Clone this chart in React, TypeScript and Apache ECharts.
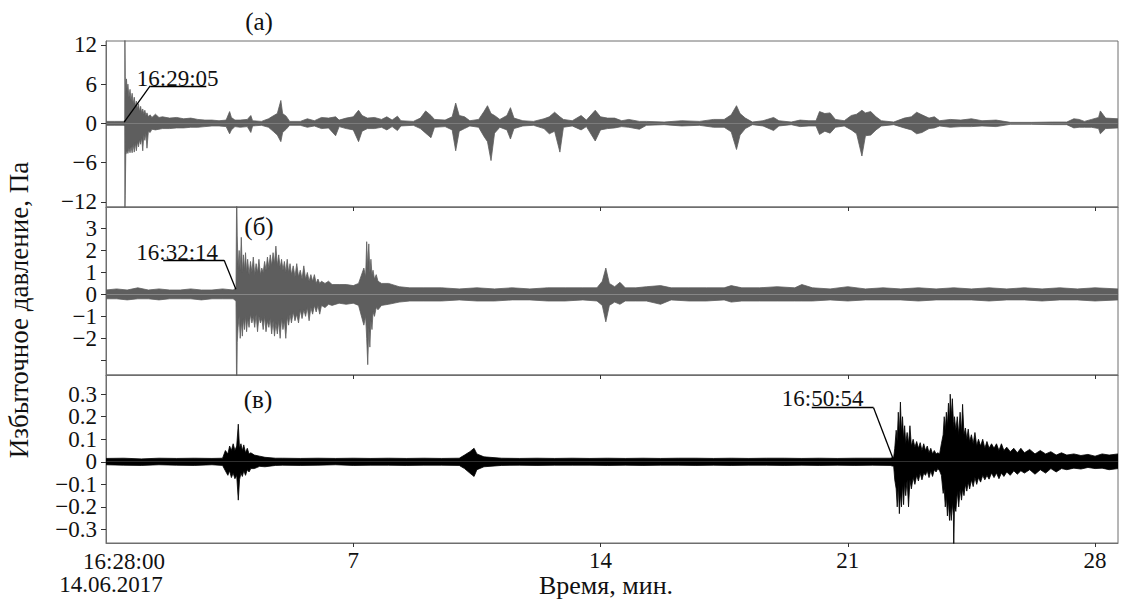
import React, { useEffect, useRef } from "react";
import * as echarts from "echarts";

// ---- texts ----
const startTimeLabel = "16:28:00";
const startDateLabel = "14.06.2017";
const xAxisTitle = "Время, мин.";
const yAxisTitle = "Избыточное давление, Па";
const panelLabels = ["(а)", "(б)", "(в)"];

// ---- axes ----
const xRange = [0, 28.65];
const xTickValues = [7, 14, 21, 28];
const panelARange = [-12.8, 12.6];
const panelATicks = [12, 6, 0, -6, -12];
const panelALabelsA = [12, 6, 0, -6, -12];
const panelALabelsB: number[] = [];
const panelBRange = [-3.67, 3.98];
const panelBTicks = [3, 2, 1, 0, -1, -2, -3];
const panelBLabelsA = [3, 1, -1];
const panelBLabelsB = [2, 0, -2];
const panelCRange = [-0.36, 0.385];
const panelCTicks = [0.3, 0.2, 0.1, 0, -0.1, -0.2, -0.3];
const panelCLabelsA = [0.3, 0.1, -0.1, -0.3];
const panelCLabelsB = [0.2, 0, -0.2];

// ---- signal envelopes: [minute, upper, lower] ----
const panelAEnvelope: number[][] = [
  [0, 0.3, -0.3], [0.25, 0.3, -0.3], [0.5, 0.3, -0.3], [0.53, 0.5, -0.5], [0.535, 14, -14],
  [0.545, 7.2, -11], [0.56, 4.5, -4.8], [0.58, 6.8, -4.5], [0.6, 4.8, -4.2], [0.62, 6.0, -4.6],
  [0.65, 4.0, -3.8], [0.68, 5.2, -4.5], [0.71, 3.5, -3.6], [0.74, 4.6, -4.5], [0.77, 3.0, -3.2],
  [0.8, 4.0, -4.4], [0.83, 2.6, -3.0], [0.86, 3.4, -4.2], [0.89, 2.2, -2.8], [0.92, 3.0, -3.6],
  [0.95, 1.8, -2.5], [0.98, 2.6, -3.2], [1.01, 1.6, -2.2], [1.04, 2.2, -4.2], [1.07, 1.4, -1.8],
  [1.1, 2.0, -2.6], [1.13, 1.2, -1.5], [1.16, 1.6, -3.8], [1.2, 1.0, -1.2], [1.25, 1.3, -1.4],
  [1.3, 0.9, -0.9], [1.4, 1.4, -1.0], [1.5, 0.9, -0.9], [1.6, 1.0, -0.8], [1.8, 0.8, -0.8],
  [2.0, 0.9, -0.7], [2.2, 0.7, -0.7], [2.4, 0.8, -0.6], [2.6, 0.6, -0.6], [2.8, 0.5, -0.5],
  [3.0, 0.5, -0.4], [3.2, 0.4, -0.4], [3.4, 0.5, -0.5], [3.5, 1.8, -1.6], [3.55, 0.9, -1.0],
  [3.65, 0.5, -0.5], [3.8, 0.5, -0.6], [4.0, 0.6, -0.5], [4.1, 1.2, -1.4], [4.15, 0.4, -0.4],
  [4.4, 0.3, -0.3], [4.6, 0.7, -0.6], [4.75, 1.2, -1.3], [4.85, 1.5, -1.8], [4.95, 3.5, -2.8],
  [5.0, 1.5, -1.4], [5.1, 1.1, -0.9], [5.2, 0.3, -0.3], [5.5, 0.3, -0.3], [5.7, 0.7, -0.6],
  [5.9, 0.4, -0.4], [6.1, 0.9, -0.8], [6.3, 0.8, -0.7], [6.5, 1.0, -1.9], [6.6, 0.5, -0.5],
  [6.8, 0.8, -0.8], [7.0, 1.0, -1.0], [7.15, 2.0, -2.8], [7.25, 1.2, -1.2], [7.4, 0.8, -0.8],
  [7.6, 0.9, -0.8], [7.8, 0.6, -0.6], [7.95, 1.0, -1.0], [8.1, 0.5, -0.5], [8.25, 1.1, -1.1],
  [8.35, 0.4, -0.4], [8.7, 0.3, -0.3], [8.9, 0.8, -0.8], [9.05, 1.9, -1.5], [9.2, 1.2, -2.2],
  [9.3, 0.6, -0.6], [9.6, 0.5, -0.5], [9.8, 1.0, -1.0], [9.9, 3.1, -4.2], [10.0, 1.2, -1.2],
  [10.15, 1.0, -0.8], [10.3, 0.4, -0.4], [10.55, 0.6, -0.6], [10.7, 1.8, -2.0], [10.8, 2.7, -2.8],
  [10.9, 1.5, -5.7], [11.0, 1.2, -1.5], [11.15, 0.6, -0.6], [11.35, 1.2, -1.0], [11.45, 2.4, -2.4],
  [11.55, 0.8, -0.8], [11.8, 0.4, -0.4], [12.1, 0.3, -0.3], [12.4, 0.7, -0.8], [12.55, 1.0, -1.6],
  [12.7, 1.7, -1.2], [12.85, 1.0, -4.4], [12.95, 0.6, -0.6], [13.2, 0.4, -0.4], [13.45, 1.2, -1.0],
  [13.6, 0.5, -0.5], [13.85, 2.0, -2.7], [14.0, 1.0, -1.0], [14.2, 0.8, -0.8], [14.4, 0.8, -0.7],
  [14.6, 0.4, -0.5], [14.8, 0.6, -0.6], [15.1, 0.3, -0.9], [15.3, 0.3, -0.3], [15.8, 0.2, -0.2],
  [16.3, 0.4, -0.4], [16.8, 0.3, -0.3], [17.2, 0.6, -0.6], [17.5, 0.6, -0.6], [17.7, 1.3, -1.3],
  [17.85, 2.7, -4.0], [17.95, 1.5, -1.8], [18.1, 0.8, -0.8], [18.3, 0.2, -0.2], [18.6, 0.4, -0.4],
  [18.9, 0.9, -1.1], [19.05, 0.4, -0.4], [19.4, 0.2, -0.2], [19.65, 0.5, -0.5], [19.9, 0.4, -0.4],
  [20.1, 0.4, -0.4], [20.2, 1.8, -1.7], [20.35, 1.5, -1.2], [20.5, 1.6, -1.5], [20.65, 0.6, -0.6],
  [20.9, 0.4, -0.4], [21.1, 1.2, -1.0], [21.25, 1.4, -1.6], [21.4, 2.0, -5.0], [21.5, 1.6, -1.9],
  [21.65, 1.8, -1.8], [21.8, 1.0, -1.0], [21.95, 0.4, -0.4], [22.3, 0.2, -0.2], [22.6, 0.8, -0.7],
  [22.8, 1.0, -1.0], [22.95, 1.7, -1.6], [23.1, 1.3, -1.4], [23.3, 0.8, -0.8], [23.45, 1.0, -0.7],
  [23.6, 0.4, -0.4], [23.9, 0.6, -0.6], [24.2, 0.5, -0.5], [24.5, 0.7, -0.5], [24.8, 0.4, -0.4],
  [25.2, 0.5, -0.5], [25.6, 0.15, -0.15], [26.2, 0.15, -0.15], [26.8, 0.2, -0.2], [27.2, 0.2, -0.2],
  [27.4, 0.7, -0.7], [27.55, 0.6, -0.6], [27.7, 0.3, -0.6], [27.9, 0.6, -0.6], [28.1, 0.9, -0.8],
  [28.15, 1.9, -1.6], [28.3, 0.8, -0.8], [28.65, 0.7, -0.7],
];

const panelBEnvelope: number[][] = [
  [0, 0.2, -0.2], [0.3, 0.25, -0.2], [0.6, 0.2, -0.25], [0.9, 0.3, -0.2], [1.2, 0.2, -0.2],
  [1.5, 0.25, -0.25], [1.8, 0.2, -0.2], [2.1, 0.2, -0.2], [2.4, 0.25, -0.2], [2.7, 0.2, -0.25],
  [3.0, 0.2, -0.2], [3.3, 0.25, -0.2], [3.6, 0.2, -0.2], [3.68, 0.3, -0.3], [3.7, 5, -5],
  [3.715, 2.7, -2.2], [3.74, 1.2, -1.5], [3.77, 2.0, -1.0], [3.8, 1.1, -2.0], [3.83, 2.6, -1.2],
  [3.86, 1.0, -1.9], [3.89, 1.8, -1.1], [3.92, 1.1, -1.6], [3.95, 1.9, -1.0], [3.98, 1.0, -1.7],
  [4.01, 1.6, -1.1], [4.05, 0.9, -1.5], [4.09, 1.5, -0.9], [4.13, 1.0, -1.3], [4.17, 1.7, -1.0],
  [4.21, 0.9, -1.5], [4.25, 1.4, -0.9], [4.29, 1.0, -1.7], [4.33, 1.6, -1.0], [4.37, 0.9, -1.3],
  [4.41, 1.2, -1.1], [4.45, 1.0, -1.6], [4.49, 1.5, -1.0], [4.53, 1.1, -1.7], [4.57, 1.7, -1.2],
  [4.61, 1.2, -1.5], [4.65, 1.8, -1.1], [4.69, 1.3, -1.8], [4.73, 1.9, -1.2], [4.77, 1.4, -1.9],
  [4.81, 2.2, -1.3], [4.85, 1.3, -1.8], [4.89, 1.8, -1.2], [4.93, 1.2, -2.0], [4.97, 1.6, -1.1],
  [5.01, 1.1, -1.6], [5.05, 1.5, -1.2], [5.09, 1.0, -2.0], [5.13, 1.6, -1.0], [5.17, 1.0, -1.4],
  [5.21, 1.4, -0.9], [5.25, 0.9, -1.3], [5.3, 1.3, -0.8], [5.35, 0.8, -1.2], [5.4, 1.4, -0.9],
  [5.45, 0.8, -1.3], [5.5, 1.1, -0.7], [5.55, 0.7, -1.1], [5.6, 1.3, -0.7], [5.65, 0.7, -1.0],
  [5.7, 1.0, -0.6], [5.75, 0.6, -1.2], [5.8, 0.9, -0.6], [5.85, 0.6, -0.9], [5.9, 0.9, -0.5],
  [5.95, 0.5, -0.8], [6.0, 0.7, -0.5], [6.05, 0.5, -0.9], [6.1, 0.6, -0.5], [6.2, 0.5, -0.6],
  [6.3, 0.6, -0.45], [6.4, 0.45, -0.5], [6.6, 0.45, -0.4], [6.8, 0.45, -0.45], [7.0, 0.4, -0.4],
  [7.15, 0.5, -0.5], [7.3, 1.2, -1.4], [7.35, 0.8, -1.0], [7.38, 2.4, -2.0], [7.41, 1.2, -3.2],
  [7.44, 2.3, -1.5], [7.47, 1.0, -2.4], [7.5, 1.6, -1.2], [7.53, 0.9, -1.6], [7.56, 1.1, -0.8],
  [7.6, 0.7, -1.0], [7.65, 0.9, -0.6], [7.7, 0.6, -0.7], [7.8, 0.5, -0.5],
  [8.0, 0.5, -0.45], [8.3, 0.35, -0.35], [8.6, 0.3, -0.3], [9.0, 0.3, -0.3], [9.5, 0.3, -0.3],
  [10.0, 0.25, -0.25], [10.5, 0.3, -0.3], [11.0, 0.25, -0.3], [11.5, 0.3, -0.25], [12.0, 0.25, -0.25],
  [12.5, 0.3, -0.3], [13.0, 0.3, -0.3], [13.5, 0.3, -0.25], [13.9, 0.3, -0.3], [14.05, 0.6, -0.5],
  [14.15, 1.2, -1.25], [14.25, 0.5, -0.5], [14.4, 0.35, -0.35], [14.55, 0.55, -0.45], [14.7, 0.3, -0.3],
  [15.0, 0.3, -0.3], [15.3, 0.35, -0.3], [15.7, 0.4, -0.45], [16.0, 0.3, -0.25], [16.5, 0.3, -0.3],
  [17.0, 0.3, -0.3], [17.5, 0.3, -0.25], [17.7, 0.4, -0.35], [18.0, 0.3, -0.3], [18.5, 0.3, -0.3],
  [19.0, 0.35, -0.3], [19.5, 0.3, -0.3], [19.7, 0.45, -0.3], [20.0, 0.3, -0.3], [20.5, 0.25, -0.25],
  [21.0, 0.35, -0.3], [21.5, 0.25, -0.25], [22.0, 0.3, -0.25], [22.5, 0.25, -0.25], [23.0, 0.3, -0.3],
  [23.5, 0.25, -0.25], [24.0, 0.3, -0.25], [24.5, 0.25, -0.25], [25.0, 0.3, -0.3], [25.5, 0.25, -0.25],
  [26.0, 0.3, -0.25], [26.5, 0.25, -0.3], [27.0, 0.3, -0.25], [27.5, 0.25, -0.25], [28.0, 0.3, -0.3],
  [28.65, 0.25, -0.25],
];

const panelCEnvelope: number[][] = [
  [0, 0.015, -0.013], [0.5, 0.016, -0.015], [1.0, 0.013, -0.016], [1.5, 0.016, -0.013], [2.0, 0.015, -0.015],
  [2.5, 0.016, -0.016], [3.0, 0.015, -0.013], [3.3, 0.016, -0.016], [3.38, 0.05, -0.04], [3.45, 0.035, -0.06],
  [3.5, 0.07, -0.04], [3.55, 0.05, -0.07], [3.6, 0.08, -0.05], [3.65, 0.05, -0.075], [3.7, 0.07, -0.06],
  [3.745, 0.167, -0.17], [3.78, 0.06, -0.08], [3.82, 0.08, -0.05], [3.86, 0.05, -0.065], [3.9, 0.075, -0.04],
  [3.95, 0.04, -0.06], [4.0, 0.06, -0.035], [4.05, 0.035, -0.045], [4.1, 0.04, -0.03], [4.2, 0.03, -0.03],
  [4.35, 0.025, -0.02], [4.5, 0.02, -0.022], [4.8, 0.016, -0.016],
  [5.0, 0.016, -0.015], [5.5, 0.015, -0.016], [6.0, 0.016, -0.015], [6.5, 0.015, -0.013], [7.0, 0.016, -0.016],
  [7.5, 0.015, -0.015], [8.0, 0.016, -0.015], [8.5, 0.015, -0.016], [9.0, 0.016, -0.015], [9.5, 0.015, -0.015],
  [10.0, 0.016, -0.016], [10.15, 0.03, -0.03], [10.3, 0.045, -0.05], [10.42, 0.06, -0.065], [10.5, 0.035, -0.035],
  [10.7, 0.022, -0.022], [11.2, 0.016, -0.016], [11.7, 0.015, -0.015], [12.2, 0.016, -0.016], [12.7, 0.015, -0.015],
  [13.2, 0.016, -0.015], [13.7, 0.015, -0.015], [14.2, 0.016, -0.016], [14.7, 0.015, -0.015], [15.2, 0.016, -0.016],
  [15.7, 0.015, -0.015], [16.2, 0.016, -0.015], [16.7, 0.016, -0.016], [17.2, 0.015, -0.015], [17.7, 0.016, -0.016],
  [18.2, 0.015, -0.015], [18.7, 0.016, -0.015], [19.2, 0.016, -0.016], [19.7, 0.015, -0.015], [20.2, 0.016, -0.016],
  [20.7, 0.015, -0.015], [21.2, 0.016, -0.016], [21.7, 0.016, -0.015], [22.2, 0.016, -0.016], [22.3, 0.02, -0.02],
  [22.33, 0.06, -0.08], [22.37, 0.14, -0.12], [22.4, 0.09, -0.2], [22.43, 0.22, -0.1], [22.46, 0.12, -0.23],
  [22.49, 0.265, -0.14], [22.52, 0.13, -0.2], [22.55, 0.2, -0.1], [22.58, 0.1, -0.19], [22.61, 0.16, -0.09],
  [22.64, 0.08, -0.15], [22.68, 0.13, -0.08], [22.72, 0.08, -0.2], [22.76, 0.16, -0.08], [22.8, 0.07, -0.12],
  [22.85, 0.1, -0.07], [22.9, 0.065, -0.1], [22.95, 0.09, -0.06], [23.0, 0.06, -0.085], [23.05, 0.085, -0.05],
  [23.1, 0.05, -0.08], [23.15, 0.08, -0.05], [23.2, 0.05, -0.06], [23.25, 0.07, -0.04], [23.3, 0.04, -0.07],
  [23.35, 0.06, -0.04], [23.4, 0.035, -0.065], [23.45, 0.05, -0.035], [23.5, 0.035, -0.045], [23.55, 0.04, -0.03],
  [23.6, 0.035, -0.04], [23.65, 0.08, -0.06], [23.7, 0.12, -0.14], [23.73, 0.2, -0.12], [23.76, 0.14, -0.2],
  [23.79, 0.22, -0.15], [23.82, 0.16, -0.24], [23.85, 0.26, -0.17], [23.88, 0.18, -0.26], [23.9, 0.3, -0.2],
  [23.93, 0.2, -0.26], [23.96, 0.28, -0.18], [23.99, 0.18, -0.24], [24.0, 0.15, -0.4], [24.02, 0.2, -0.2],
  [24.06, 0.14, -0.22], [24.1, 0.2, -0.13], [24.14, 0.12, -0.2], [24.18, 0.22, -0.12], [24.22, 0.13, -0.17],
  [24.25, 0.255, -0.12], [24.29, 0.12, -0.15], [24.33, 0.15, -0.1], [24.37, 0.1, -0.13], [24.41, 0.145, -0.09],
  [24.45, 0.09, -0.12], [24.5, 0.12, -0.08], [24.55, 0.08, -0.11], [24.6, 0.13, -0.07], [24.65, 0.07, -0.1],
  [24.7, 0.1, -0.07], [24.76, 0.07, -0.09], [24.82, 0.1, -0.06], [24.88, 0.06, -0.08], [24.94, 0.09, -0.06],
  [25.0, 0.06, -0.077], [25.07, 0.08, -0.05], [25.14, 0.06, -0.07], [25.21, 0.08, -0.05], [25.28, 0.05, -0.075],
  [25.35, 0.08, -0.05], [25.42, 0.05, -0.065], [25.5, 0.065, -0.045], [25.6, 0.045, -0.06], [25.7, 0.06, -0.04],
  [25.8, 0.04, -0.055], [25.9, 0.06, -0.04], [26.0, 0.04, -0.05], [26.15, 0.055, -0.035], [26.3, 0.035, -0.055],
  [26.45, 0.05, -0.035], [26.6, 0.035, -0.05], [26.75, 0.045, -0.03], [26.9, 0.03, -0.045], [27.05, 0.04, -0.03],
  [27.2, 0.03, -0.035], [27.4, 0.035, -0.028], [27.6, 0.028, -0.032], [27.8, 0.033, -0.025], [28.0, 0.025, -0.03],
  [28.2, 0.035, -0.028], [28.4, 0.03, -0.035], [28.65, 0.035, -0.03],
];

// ---- event annotations (data coordinates) ----
const eventLabels = ["16:29:05", "16:32:14", "16:50:54"];
const eventTextAt = [[2.03, 6.9], [2.015, 1.92], [20.29, 0.28]];
const eventLeaders = [
  [[0.515, 0.2], [1.25, 5.74], [2.84, 5.74]],
  [[1.62, 1.56], [3.345, 1.56], [3.677, 0.24]],
  [[19.98, 0.24], [21.73, 0.24], [22.28, 0.015]],
];

const FONT = "'Liberation Serif', 'DejaVu Serif', serif";
const FS = 23;
const TITLE_FS = 26;
const GRAY = "#5e5e5e";
const FRAME = "#6e6e6e";
const TEXT = "#111";

const fmtMinus = (v: number, d = 0) => {
  if (Math.abs(v) < 1e-9) return "0";
  return v < 0 ? "\u2212" + Math.abs(v).toFixed(d) : v.toFixed(d);
};

export default function App() {
  const ref = useRef<HTMLDivElement>(null);
  useEffect(() => {
    document.body.style.margin = "0";
    const chart = echarts.init(ref.current!, null, { renderer: "svg" });
    const grids = [
      { left: 106, right: 6, top: 41, height: 166 },
      { left: 106, right: 6, top: 207, height: 168 },
      { left: 106, right: 6, top: 375, height: 168 },
    ].map((g) => ({ ...g, show: true, borderColor: FRAME, borderWidth: 1, backgroundColor: "transparent" }));

    const xAxes = [0, 1, 2].map((i) => ({
      type: "value",
      gridIndex: i,
      min: xRange[0],
      max: xRange[1],
      axisLine: { show: true, onZero: false, lineStyle: { color: FRAME, width: 1 } },
      axisTick: { show: true, inside: false, length: 4, customValues: xTickValues, lineStyle: { color: "#333" } },
      axisLabel: {
        show: i === 2,
        customValues: xTickValues,
        margin: 6,
        color: TEXT,
        fontFamily: FONT,
        fontSize: FS,
        hideOverlap: false,
        formatter: (v: number) => String(v),
      },
      splitLine: { show: false },
    }));

    const yDefs = [
      { range: panelARange, ticks: panelATicks, la: panelALabelsA, lb: panelALabelsB, d: 0 },
      { range: panelBRange, ticks: panelBTicks, la: panelBLabelsA, lb: panelBLabelsB, d: 0 },
      { range: panelCRange, ticks: panelCTicks, la: panelCLabelsA, lb: panelCLabelsB, d: 1 },
    ];
    const labelStyle = (vals: number[], d: number) => ({
      show: vals.length > 0,
      customValues: vals,
      margin: 9,
      color: TEXT,
      fontFamily: FONT,
      fontSize: FS,
      lineHeight: 19,
      showMinLabel: true,
      showMaxLabel: true,
      hideOverlap: false,
      formatter: (v: number) => fmtMinus(v, d),
    });
    const yAxesMain = yDefs.map((y, i) => ({
      type: "value",
      gridIndex: i,
      position: "left",
      min: y.range[0],
      max: y.range[1],
      axisLine: { show: true, onZero: false, lineStyle: { color: FRAME, width: 1 } },
      axisTick: { show: true, inside: false, length: 5, customValues: y.ticks, lineStyle: { color: "#333" } },
      axisLabel: labelStyle(y.la, y.d),
      splitLine: { show: false },
    }));
    const yAxesAlt = yDefs.map((y, i) => ({
      type: "value",
      gridIndex: i,
      position: "left",
      offset: 0,
      min: y.range[0],
      max: y.range[1],
      axisLine: { show: false, onZero: false },
      axisTick: { show: false },
      axisLabel: labelStyle(y.lb, y.d),
      splitLine: { show: false },
    }));

    const envs = [panelAEnvelope, panelBEnvelope, panelCEnvelope];
    const colors = [GRAY, GRAY, "#000"];
    const series: any[] = [];
    envs.forEach((env, i) => {
      const base = {
        type: "line",
        xAxisIndex: i,
        yAxisIndex: i,
        showSymbol: false,
        symbol: "none",
        silent: true,
        clip: true,
        lineStyle: { width: 0.8, color: colors[i] },
        areaStyle: { color: colors[i], opacity: 1 },
        itemStyle: { color: colors[i] },
      };
      series.push({ ...base, data: env.map((r) => [r[0], r[1]]) });
      series.push({ ...base, data: env.map((r) => [r[0], r[2]]) });
      const pts = eventLeaders[i];
      series.push({
        type: "line",
        xAxisIndex: i,
        yAxisIndex: i,
        data: [],
        silent: true,
        z: 5,
        markLine: {
          silent: true,
          symbol: ["none", "none"],
          label: { show: false },
          lineStyle: { color: "#000", width: 1.3, type: "solid" },
          data: [
            [{ coord: pts[0] }, { coord: pts[1] }],
            [{ coord: pts[1] }, { coord: pts[2] }],
          ],
        },
        markPoint: {
          silent: true,
          symbol: "rect",
          symbolSize: 1,
          itemStyle: { color: "rgba(0,0,0,0)" },
          label: {
            show: true,
            position: "inside",
            color: TEXT,
            fontFamily: FONT,
            fontSize: FS,
            formatter: eventLabels[i],
          },
          data: [{ coord: eventTextAt[i] }],
        },
      });
    });

    const textEl = (x: number, y: number, text: string, size = FS, rotation = 0) => ({
      type: "text",
      x,
      y,
      rotation,
      style: {
        text,
        fill: TEXT,
        fontFamily: FONT,
        fontSize: size,
        align: "center",
        verticalAlign: "middle",
      },
    });

    chart.setOption({
      animation: false,
      grid: grids,
      xAxis: xAxes,
      yAxis: [...yAxesMain, ...yAxesAlt],
      series,
      graphic: [
        textEl(259, 21, panelLabels[0], 25),
        textEl(259, 226, panelLabels[1], 25),
        textEl(258, 399, panelLabels[2], 25),
        textEl(124, 561, startTimeLabel),
        textEl(111, 584, startDateLabel),
        textEl(606, 585, xAxisTitle, TITLE_FS),
        textEl(19, 310, yAxisTitle, 27, Math.PI / 2),
      ],
    });
    return () => chart.dispose();
  }, []);
  return <div ref={ref} style={{ width: 1124, height: 600 }} />;
}
